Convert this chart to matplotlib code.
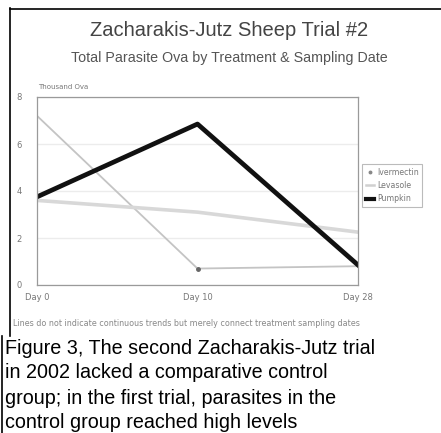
import matplotlib
matplotlib.use("Agg")
from matplotlib import pyplot as plt
from matplotlib.lines import Line2D

days = ["Day 0", "Day 10", "Day 28"]
ivermectin = [7.2, 0.7, 0.8]
levasole = [3.6, 3.1, 2.25]
pumpkin = [3.75, 6.85, 0.85]
y_ticks = [0, 2, 4, 6, 8]

W, H = 441, 433
fig = plt.figure(figsize=(W / 100, H / 100), dpi=100)
fig.patch.set_facecolor("white")

def fx(px):
    return px / W

def fy(py):
    return 1 - py / H

ax = fig.add_axes([fx(37), fy(285), fx(358) - fx(37), fy(97) - fy(285)])
x = range(len(days))
ax.plot(x, ivermectin, color="#c4c4c4", lw=1.3, label="Ivermectin")
ax.plot([1], [ivermectin[1]], "o", color="#666666", ms=2.5)
ax.plot(x, levasole, color="#d8d8d8", lw=2.6, label="Levasole")
ax.plot(x, pumpkin, color="#111111", lw=3.4, label="Pumpkin")

ax.set_xlim(0, 2)
ax.set_ylim(0, 8)
ax.set_yticks(y_ticks)
ax.set_yticklabels([str(v) for v in y_ticks])
ax.set_xticks(list(x))
ax.set_xticklabels(days)
ax.tick_params(length=0, labelsize=6, colors="#777777")
ax.tick_params(axis="y", pad=11)
ax.tick_params(axis="x", pad=6)
ax.grid(axis="y", color="#ececec", lw=1.0)
ax.set_axisbelow(True)
for s in ax.spines.values():
    s.set_color("#9a9a9a")
    s.set_linewidth(0.9)

handles = [
    Line2D([], [], color="#888888", marker="o", ms=1.8, lw=0, label="Ivermectin"),
    Line2D([], [], color="#d0d0d0", lw=1.8, label="Levasole"),
    Line2D([], [], color="#111111", lw=3.0, label="Pumpkin"),
]
leg = fig.legend(handles=handles, loc="upper left", bbox_to_anchor=(fx(362), fy(164)),
                 fontsize=5.6, frameon=True, fancybox=False, handlelength=1.0,
                 handletextpad=0.4, borderpad=0.5, labelspacing=0.55, labelcolor="#777777",
                 borderaxespad=0)
leg.get_frame().set_edgecolor("#aaaaaa")
leg.get_frame().set_linewidth(0.8)

fig.text(fx(229), fy(30), "Zacharakis-Jutz Sheep Trial #2", ha="center", va="center",
         fontsize=14.5, color="#444444", family="Liberation Sans")
fig.text(fx(229), fy(58), "Total Parasite Ova by Treatment & Sampling Date", ha="center",
         va="center", fontsize=10.3, color="#555555", family="Liberation Sans")
fig.text(fx(38), fy(87), "Thousand Ova", ha="left", va="center", fontsize=5, color="#777777")
fig.text(fx(13), fy(323), "Lines do not indicate continuous trends but merely connect treatment sampling dates",
         ha="left", va="center", fontsize=5.8, color="#888888")

caption = ["Figure 3, The second Zacharakis-Jutz trial",
           "in 2002 lacked a comparative control",
           "group; in the first trial, parasites in the",
           "control group reached high levels"]
for i, line in enumerate(caption):
    fig.text(fx(5), fy(348 + 25 * i), line, ha="left", va="center", fontsize=14.2,
             color="black", family="Liberation Sans")

# page frames
fig.add_artist(Line2D([fx(10), fx(10)], [fy(8), fy(336)], color="black", lw=1.2))
fig.add_artist(Line2D([fx(10), fx(441)], [fy(9), fy(9)], color="black", lw=1.2))
fig.add_artist(Line2D([fx(1.5), fx(1.5)], [fy(336), fy(433)], color="black", lw=1.2))

fig.savefig("out.png", dpi=100, facecolor="white")
